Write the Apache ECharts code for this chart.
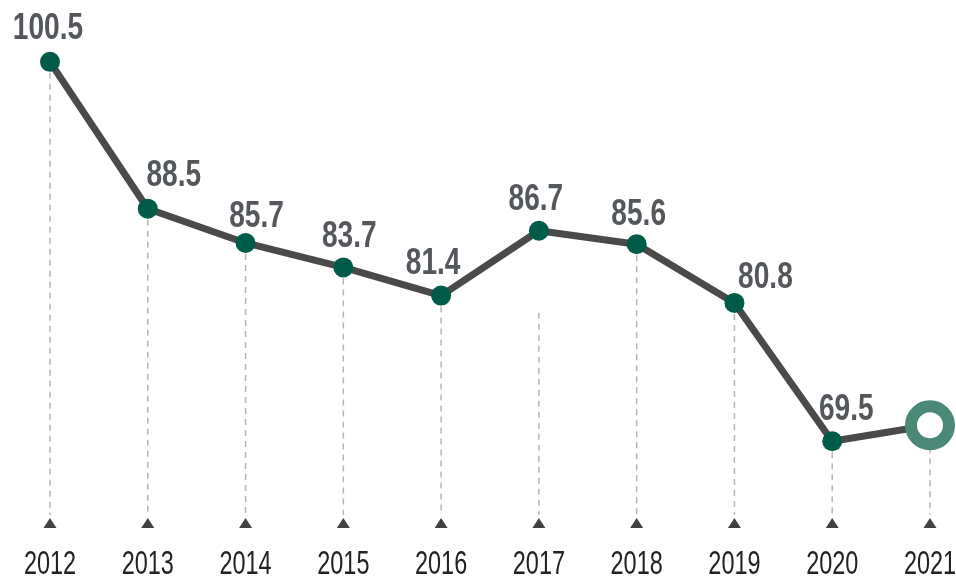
<!DOCTYPE html>
<html>
<head>
<meta charset="utf-8">
<script src="https://cdn.jsdelivr.net/npm/echarts@6/dist/echarts.min.js"></script>
<style>
  html, body { margin: 0; padding: 0; background: #fff; }
  #chart { width: 956px; height: 583px; }
</style>
</head>
<body>
<div id="chart"></div>
<script>
// 数据
const years = ['2012', '2013', '2014', '2015', '2016', '2017', '2018', '2019', '2020', '2021']
const values = [100.5, 88.5, 85.7, 83.7, 81.4, 86.7, 85.6, 80.8, 69.5, 70.8]
// 2021 has no printed value (open ring)
const showLabel = [true, true, true, true, true, true, true, true, true, false]

// 样式: label offsets from each point (px), and where the 2017 guide starts
const labelOffset = [[-2, -33], [26, -33], [11, -26], [6, -30], [-8, -32], [-3, -31], [2, -29], [31, -25], [14, -31], [0, 0]]
const guideStartOverride = { 5: 80.0 }

const Y_MIN = 62
const Y_MAX = 104
const GUIDE_END = 63.5

// condensed look: Liberation Sans squeezed horizontally
const FONT = "'Liberation Sans', Arial, sans-serif"

const chart = echarts.init(document.getElementById('chart'))

const lineData = values.map((v, i) => {
  const item = { value: v }
  if (i === values.length - 1) {
    item.symbolSize = 38
    item.itemStyle = { color: '#ffffff', borderColor: '#4b8878', borderWidth: 12 }
  }
  return item
})

const guideData = values.map((v, i) => [i, guideStartOverride[i] !== undefined ? guideStartOverride[i] : v])

chart.setOption({
  animation: false,
  grid: { left: 50, right: 26, top: 19, bottom: 50, outerBoundsMode: 'none' },
  xAxis: {
    type: 'category',
    data: years,
    boundaryGap: false,
    axisLine: { show: false },
    axisTick: { show: false },
    splitLine: { show: false },
    axisLabel: { show: false },
  },
  yAxis: {
    type: 'value',
    min: Y_MIN,
    max: Y_MAX,
    show: false,
    splitLine: { show: false },
  },
  series: [
    {
      // dashed guides down to the axis
      type: 'custom',
      z: 1,
      silent: true,
      data: guideData,
      renderItem: (params, api) => {
        const top = api.coord([api.value(0), api.value(1)])
        const bottom = api.coord([api.value(0), GUIDE_END])
        return {
          type: 'line',
          shape: { x1: top[0], y1: top[1], x2: bottom[0], y2: bottom[1] },
          style: { stroke: '#b5b5b5', lineWidth: 1.5, lineDash: [6, 5] },
        }
      },
    },
    {
      // small arrows above each year
      type: 'scatter',
      z: 2,
      silent: true,
      symbol: 'triangle',
      symbolSize: [13, 10],
      symbolOffset: [0, -10],
      itemStyle: { color: '#111111' },
      data: years.map(() => Y_MIN),
    },
    {
      // year labels under the arrows
      type: 'custom',
      z: 2,
      silent: true,
      data: years.map((y, i) => [i, Y_MIN]),
      renderItem: (params, api) => {
        const p = api.coord([api.value(0), api.value(1)])
        return {
          type: 'text',
          x: p[0],
          y: p[1] + 32,
          scaleX: 0.7,
          style: {
            text: years[params.dataIndex],
            fill: '#222222',
            fontSize: 33.5,
            fontFamily: FONT,
            align: 'center',
            verticalAlign: 'middle',
          },
        }
      },
    },
    {
      type: 'line',
      z: 3,
      data: lineData,
      symbol: 'circle',
      symbolSize: 20,
      showAllSymbol: true,
      lineStyle: { color: '#4a4a4a', width: 7 },
      itemStyle: { color: '#005c48', borderWidth: 0 },
      label: { show: false },
    },
    {
      // value labels
      type: 'custom',
      z: 4,
      silent: true,
      data: values.map((v, i) => [i, v]),
      renderItem: (params, api) => {
        const i = params.dataIndex
        if (!showLabel[i]) return null
        const p = api.coord([api.value(0), api.value(1)])
        return {
          type: 'text',
          x: p[0] + labelOffset[i][0],
          y: p[1] + labelOffset[i][1],
          scaleX: 0.78,
          style: {
            text: String(values[i]),
            fill: '#54575c',
            fontSize: 36,
            fontWeight: 'bold',
            fontFamily: FONT,
            align: 'center',
            verticalAlign: 'middle',
          },
        }
      },
    },
  ],
})
</script>
</body>
</html>
